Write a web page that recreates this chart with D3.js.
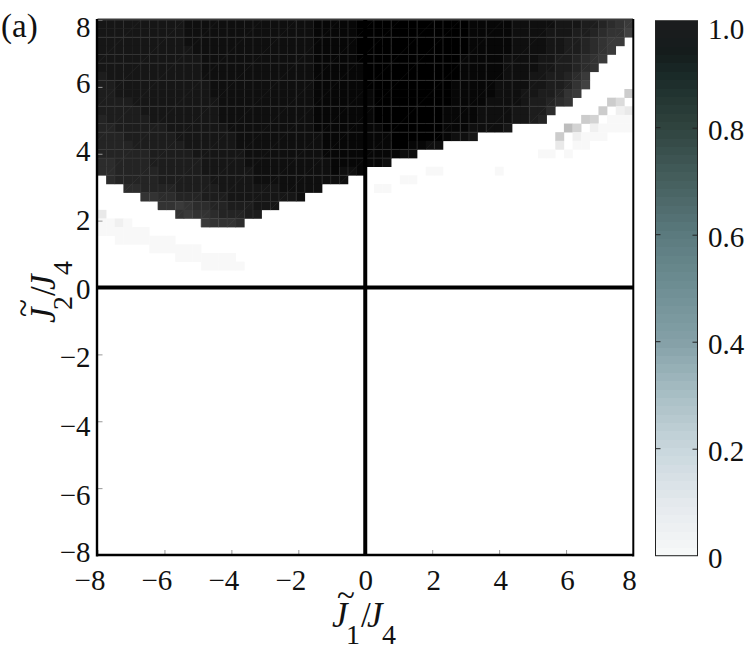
<!DOCTYPE html>
<html>
<head>
<meta charset="utf-8">
<style>
  html, body { margin: 0; padding: 0; background: #fff; }
  svg { display: block; }
  text { font-family: "Liberation Serif", serif; fill: #111; }
</style>
<script src="https://cdn.jsdelivr.net/npm/d3@7"></script>
</head>
<body>
<script>
// one string per row from the top, one character per cell, 0 = 0.0 ... z = 1.0
// rows below the last one listed are all zero
var heatRows = [
  "wwwwwwwwww xxxxxxxxxx xxxxxyyyyy zzzzzzzzzz zzzyyyyyxx xxxwwwvvut sr",
  "wwwwwwwwww xxxxxxxxxx xxxxxyyyyy zzzzzzzzzz zzzyyyyyxx xxwwwvvuts sq",
  "wwwwwwwwww xxxxxxxxxx xxxxxyyyyy zzzzzzzzzz zzzyyyyyxx xxwwvvutsr r0",
  "wwwwwwwwww wxxxxxxxxx xxxxxyyyyy zzzzzzzzzz zzzyyyyyxx xxwwvvutsr 00",
  "wwwwwwwwww wwxxxxxxxx xxxxxyyyyy zzzzzzzzzz zzyyyyyxxx xwwvvutsr0 00",
  "wwwwwwwwww wwxxxxxxxx xxxxxyyyyy yzzzzzzzzz zzyyyyyxxx xwwvvuts00 00",
  "vwwwwwwwww wwxxxxxxxx xxxxxyyyyy yzzzzzzzzz zzyyyyyxxx wwvvutr000 00",
  "vvwwwwwwww wwwxxxxxxx xxxxxyyyyy yzzzzzzzzz zyyyyyxxxx wwvvusq000 00",
  "vvwwwwwwww wwwxxxxxxx xxxxxyyyyy yyzzzzzzzz zyyyyyxxxw wvvusr0000 07",
  "vvvvwwwwww wwwwxxxxxx xxxxxyyyyy yyzzzzzzzz zyyyyxxxxw vvuts00007 50",
  "vvvvvwwwww wwwwxxxxxx xxxxxyyyyy yyzzzzzzzz yyyyxxxxww vvt0000070 23",
  "uvvvvvwwww wwwwxxxxxx xxxxxyyyyy yyzzzzzzzz yyyyxxxxww vu00007601 11",
  "uuvvvvvvww wwwwwxxxxx xxxxxyyyyy yyyzzzzzzz yyyxxxxw00 0000960211 11",
  "uuuvvvvvvw wwwwwwxxxx xxxxxxyyyy yyyyzzzzzz yxxw000000 0007021110 00",
  "uuuuvvvvvv wwwwwwxxxx xxxxxxyyyy yyyyzzyyxx 0000000000 0003011000 00",
  "uuuuuuvvvv vwwwwwwxxx xxxxxxyyyy yyyyyxx000 0000000000 0110100000 00",
  "ttuuuuvvvv vvwwwwwxxx xxxxxxxyyy yyyx000000 0000000000 0000000000 00",
  "ttuuuuuvvv vvwwwwwwxx xxxxxxxyxx y000000011 0000001000 0000000000 00",
  "0tuuuuuvvv vvvwwwwwxx xxxxxxxxx0 0000011000 0000000000 0000000000 00",
  "000ttuuuuv vvvvwwwwww wxxxxx0000 0011000000 0000000000 0000000000 00",
  "00000ssttu uuvvvwwwww wwwx000000 0000000000 0000000000 0000000000 00",
  "0000000ssr sttuuvvvww w000000000 0000000000 0000000000 0000000000 00",
  "300000000s rsstuuuvv0 0000000000 0000000000 0000000000 0000000000 00",
  "1121000000 00rssst000 0000000000 0000000000 0000000000 0000000000 00",
  "1111110000 0000000000 0000000000 0000000000 0000000000 0000000000 00",
  "0011111110 0000000000 0000000000 0000000000 0000000000 0000000000 00",
  "0000001111 1100000000 0000000000 0000000000 0000000000 0000000000 00",
  "0000000001 1111110000 0000000000 0000000000 0000000000 0000000000 00",
  "0000000000 0011111000 0000000000 0000000000 0000000000 0000000000 00"
];
var numCells = 62;

// cell edges that show up as thin light lines inside the dark block
var seamCols = [2, 5, 7, 8, 10, 12, 13, 15, 16, 18, 21, 23, 24, 26, 27, 29, 32, 34, 37, 39, 40, 42, 43, 45, 48, 50, 53, 55, 56, 58, 59, 60];
var seamRows = [2, 4, 5, 7, 10, 12, 13, 15, 16, 18];
var hatchDiagonals = [4, 9, 13, 18, 22, 27, 31, 34, 38, 41, 46, 52, 57, 61, 65, 70];

var axisTicks = [-8, -6, -4, -2, 0, 2, 4, 6, 8];
var barTicks = [0, 0.2, 0.4, 0.6, 0.8, 1];
var barValues = [0, 0.1, 0.2, 0.3, 0.4, 0.5, 0.6, 0.7, 0.8, 0.9, 0.94, 1];
var barColors = ["#f8f9f9", "#e4e9ed", "#c9d7dd", "#a9bfc5", "#85a1a8", "#6f8f94", "#5b7a7e", "#46605f", "#30443f", "#1a2a28", "#141c1c", "#1c1c1e"];

var width = 750, height = 652;
var left = 97.5, right = 633, top_ = 20, bottom = 555;
var barLeft = 655.5, barRight = 697.5, barTop = 20.7, barBottom = 555.7;
var labelSize = 29;

var svg = d3.select("body").append("svg").attr("width", width).attr("height", height);

var x = d3.scaleLinear().domain([-8, 8]).range([left, right]);
var y = d3.scaleLinear().domain([-8, 8]).range([bottom, top_]);
var col = d3.scaleBand().domain(d3.range(numCells)).range([left, right]);
var row = d3.scaleBand().domain(d3.range(numCells)).range([top_, bottom]);
var gray = d3.scaleLinear().domain([0, 1]).range(["#ffffff", "#000000"]);

// turn the strings into cells
var cells = [];
heatRows.forEach(function(s, r) {
  s.replace(/ /g, "").split("").forEach(function(ch, c) {
    var v = parseInt(ch, 36) / 35;
    if (v > 0) cells.push({ r: r, c: c, v: v });
  });
});
var dark = cells.filter(function(d) { return d.v > 0.7; });

svg.append("g").selectAll("rect").data(cells).join("rect")
    .attr("x", function(d) { return col(d.c); })
    .attr("y", function(d) { return row(d.r); })
    .attr("width", col.bandwidth() + 0.3)
    .attr("height", row.bandwidth() + 0.3)
    .attr("fill", function(d) { return gray(d.v); });

// diagonal streaks, then the seams
svg.append("g").selectAll("line").data(dark.filter(function(d) { return hatchDiagonals.indexOf(d.c + d.r) >= 0; })).join("line")
    .attr("x1", function(d) { return col(d.c); })
    .attr("y1", function(d) { return row(d.r) + row.bandwidth(); })
    .attr("x2", function(d) { return col(d.c) + col.bandwidth(); })
    .attr("y2", function(d) { return row(d.r); })
    .attr("stroke", "#fff").attr("stroke-opacity", 0.07).attr("stroke-width", 0.7);

svg.append("g").selectAll("line").data(dark.filter(function(d) { return seamCols.indexOf(d.c) >= 0; })).join("line")
    .attr("x1", function(d) { return col(d.c); })
    .attr("x2", function(d) { return col(d.c); })
    .attr("y1", function(d) { return row(d.r); })
    .attr("y2", function(d) { return row(d.r) + row.bandwidth(); })
    .attr("stroke", "#3c3c3c").attr("stroke-width", 0.6);

svg.append("g").selectAll("line").data(dark.filter(function(d) { return seamRows.indexOf(d.r) >= 0; })).join("line")
    .attr("x1", function(d) { return col(d.c); })
    .attr("x2", function(d) { return col(d.c) + col.bandwidth(); })
    .attr("y1", function(d) { return row(d.r); })
    .attr("y2", function(d) { return row(d.r); })
    .attr("stroke", "#3c3c3c").attr("stroke-width", 0.6);

function fmt(v) { return String(v).replace("-", "\u2212"); }

// the y labels do not sit exactly on their ticks in the original figure
var yLabelShift = { "8": 7, "6": -4, "4": -3, "2": -1, "0": 1, "-2": 3, "-4": 4.5, "-6": 7, "-8": -3 };

var xAxis = d3.axisBottom(x).tickValues(axisTicks).tickSize(-5).tickFormat(fmt);
var gx = svg.append("g").attr("transform", "translate(0," + bottom + ")").call(xAxis);
var yAxis = d3.axisLeft(y).tickValues(axisTicks).tickSize(-5).tickFormat(fmt);
var gy = svg.append("g").attr("transform", "translate(" + left + ",0)").call(yAxis);
[gx, gy].forEach(function(g) {
  g.select(".domain").remove();
  g.selectAll(".tick line").attr("stroke", "#999").attr("stroke-width", 1);
  g.selectAll("text").attr("font-size", labelSize).style("fill", "#111").style("font-family", "Liberation Serif");
});
gx.selectAll("text").attr("y", 0).attr("dy", 34.5).attr("text-anchor", "middle")
    .attr("dx", function(d) { return d == 8 ? -4 : d == 0 ? 0 : d < 0 ? -8 : 1; });
gy.selectAll("text").attr("x", -7).attr("text-anchor", "end")
    .attr("dy", function(d) { return yLabelShift[d] + 9.5; });

// frame and the two zero lines
svg.append("line").attr("x1", left).attr("x2", right).attr("y1", top_ - 0.5).attr("y2", top_ - 0.5)
    .attr("stroke", "#3a3a3a").attr("stroke-width", 1.8);
svg.append("line").attr("x1", left - 0.5).attr("x2", left - 0.5).attr("y1", top_ - 1).attr("y2", bottom + 1.5)
    .attr("stroke", "#000").attr("stroke-width", 2.4);
svg.append("line").attr("x1", right + 0.3).attr("x2", right + 0.3).attr("y1", top_ - 1).attr("y2", bottom + 1.5)
    .attr("stroke", "#000").attr("stroke-width", 2);
svg.append("line").attr("x1", left).attr("x2", right).attr("y1", bottom).attr("y2", bottom)
    .attr("stroke", "#000").attr("stroke-width", 2.6);
svg.append("line").attr("x1", x(-8)).attr("x2", x(8)).attr("y1", y(0)).attr("y2", y(0))
    .attr("stroke", "#000").attr("stroke-width", 3.8);
svg.append("line").attr("x1", x(0)).attr("x2", x(0)).attr("y1", y(8)).attr("y2", y(-8))
    .attr("stroke", "#000").attr("stroke-width", 4);

// colorbar
var barY = d3.scaleLinear().domain([0, 1]).range([barBottom, barTop]);
var barColor = d3.scaleLinear().domain(barValues).range(barColors);
var numBands = 64;
svg.append("g").attr("shape-rendering", "crispEdges")
  .selectAll("rect").data(d3.range(numBands)).join("rect")
    .attr("x", barLeft).attr("width", barRight - barLeft)
    .attr("y", function(d) { return barY((d + 1) / numBands); })
    .attr("height", (barBottom - barTop) / numBands + 1)
    .attr("fill", function(d) { return barColor((d + 0.5) / numBands); });
svg.append("rect").attr("x", barLeft).attr("y", barTop)
    .attr("width", barRight - barLeft).attr("height", barBottom - barTop)
    .attr("fill", "none").attr("stroke", "#222").attr("stroke-width", 1);

var barAxis = d3.axisRight(barY).tickValues(barTicks).tickSize(-5)
    .tickFormat(function(d) { return d == 0 ? "0" : d3.format(".1f")(d); });
var gb = svg.append("g").attr("transform", "translate(" + barRight + ",0)").call(barAxis);
gb.select(".domain").remove();
gb.selectAll(".tick line").attr("stroke", "#222").attr("stroke-width", 1)
    .attr("opacity", function(d) { return d == 0 || d == 1 ? 0 : 1; });
gb.selectAll("text").attr("font-size", labelSize).attr("x", 10.5)
    .attr("dy", function(d) { return d == 1 ? 18 : 11.5; })
    .style("fill", "#111").style("font-family", "Liberation Serif");
svg.append("g").selectAll("line").data(barTicks.slice(1, 5)).join("line")
    .attr("x1", barLeft).attr("x2", barLeft + 5)
    .attr("y1", function(d) { return barY(d); }).attr("y2", function(d) { return barY(d); })
    .attr("stroke", "#222").attr("stroke-width", 1);

// panel letter and axis titles, pieced together like the original math labels
function piece(g, str, px, py, size, italic) {
  return g.append("text").attr("x", px).attr("y", py).attr("font-size", size)
      .attr("font-style", italic ? "italic" : "normal").text(str);
}
piece(svg, "(a)", 1, 37, 33, false);

var xt = svg.append("g");
piece(xt, "J", 332, 627, 35, true);
piece(xt, "~", 337, 606, 33, false);
piece(xt, "1", 346, 644, 28, false);
piece(xt, "/", 361, 627, 35, false);
piece(xt, "J", 367, 627, 35, true);
piece(xt, "4", 382, 644, 28, false);

var yt = svg.append("g").attr("transform", "translate(55,323) rotate(-90)");
piece(yt, "J", 0, 0, 35, true);
piece(yt, "~", 6, -21, 33, false);
piece(yt, "2", 13, 17, 28, false);
piece(yt, "/", 27, 0, 35, false);
piece(yt, "J", 33, 0, 35, true);
piece(yt, "4", 48, 17, 28, false);
</script>
</body>
</html>
